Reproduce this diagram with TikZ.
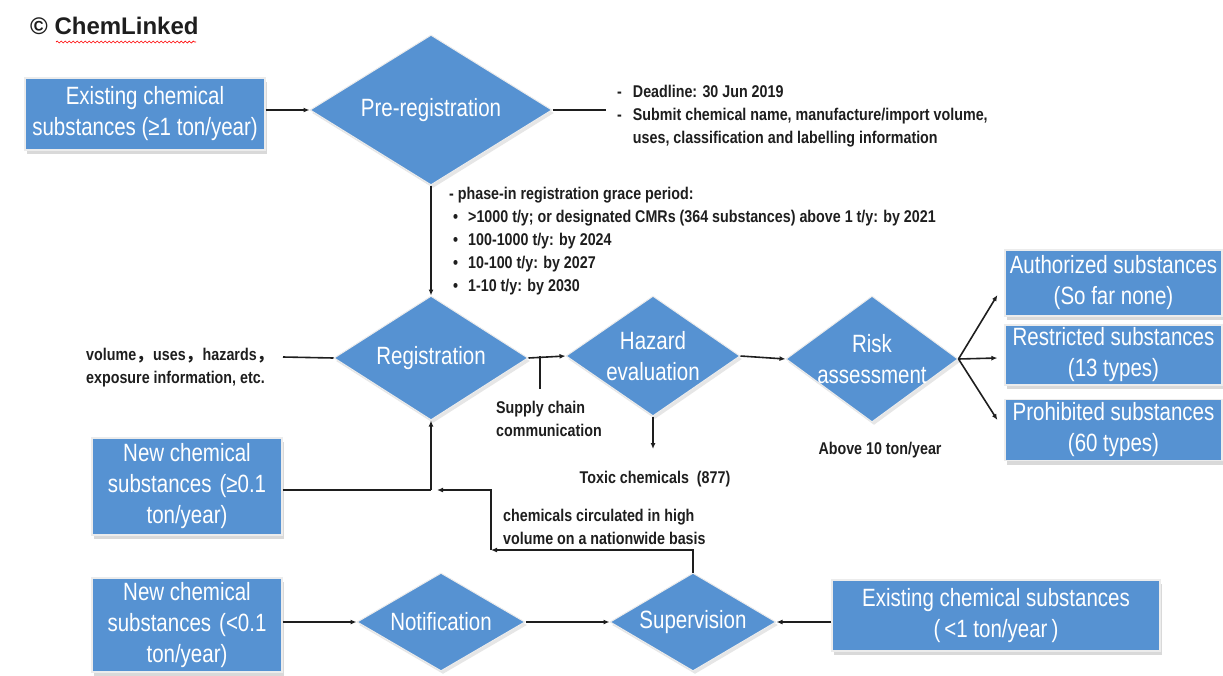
\documentclass[tikz,border=0pt]{standalone}
\usepackage{fontspec}
\setmainfont{Liberation Sans}[FakeStretch=0.82]
\newfontfamily\notefont{Liberation Sans}[FakeStretch=0.84]
\newfontfamily\titlefont{Liberation Sans}
\newfontfamily\cjk{Noto Sans CJK SC}
\usetikzlibrary{shapes.geometric,shadows,arrows.meta,decorations.pathmorphing}
\definecolor{cblue}{RGB}{86,146,210}
\definecolor{ink}{RGB}{30,30,30}
\tikzset{
  box/.style={rectangle, fill=cblue, draw=white!85!gray, line width=1.2pt, text=white,
    font=\fontsize{25}{31}\selectfont, align=center, inner sep=0pt,
    drop shadow={shadow xshift=2pt, shadow yshift=-4pt, opacity=0.3, fill=gray}},
  dia/.style={diamond, aspect=2, fill=cblue, draw=white!85!gray, line width=1pt, inner sep=0pt,
    drop shadow={shadow xshift=2pt, shadow yshift=-3pt, opacity=0.2, fill=gray}},
  diat/.style={text=white, font=\fontsize{25}{31}\selectfont, align=center, inner sep=0pt},
  note/.style={text=ink, font=\notefont\fontsize{17}{23}\selectfont\bfseries, align=left, inner sep=0pt},
  arr/.style={-{Latex[length=6pt,width=5pt]}, line width=1.6pt, draw=ink},
  ln/.style={line width=1.6pt, draw=ink}
}
\begin{document}
\begin{tikzpicture}[x=1pt,y=-1pt]
\useasboundingbox (0,0) rectangle (1223,675);

% title
\node[anchor=west, inner sep=0pt, font=\titlefont\fontsize{24}{28}\selectfont\bfseries, text=ink] (copy) at (30,26) {© ChemLinked};
\draw[red, line width=0.7pt, decorate, decoration={snake, amplitude=1pt, segment length=4pt}] (56,42) -- (196,42);

% top row
\node[box, minimum width=240pt, minimum height=72pt] (b1) at (145,114) {Existing chemical\\substances (≥1 ton/year)};
\node[dia, minimum width=242pt, minimum height=150pt] (pre) at (431,110) {};
\node[diat] (pret) at (pre) {Pre-registration};
\coordinate (dl) at (606,110);
\node[note, anchor=west] (dltext) at (617,116) {-\hspace{11pt}Deadline: 30 Jun 2019\\-\hspace{11pt}Submit chemical name, manufacture/import volume,\\\hphantom{-\hspace{11pt}}uses, classification and labelling information};

\draw[arr] (b1.east |- pre.west) -- (pre.west);
\draw[ln] (pre.east) -- (dl);

% phase-in text
\node[note, anchor=west] (phase) at (449,241) {- phase-in registration grace period:\\
\hspace{4pt}•\hspace{10pt}>1000 t/y; or designated CMRs (364 substances) above 1 t/y: by 2021\\
\hspace{4pt}•\hspace{10pt}100-1000 t/y: by 2024\\
\hspace{4pt}•\hspace{10pt}10-100 t/y: by 2027\\
\hspace{4pt}•\hspace{10pt}1-10 t/y: by 2030};

% registration row
\node[dia, minimum width=194pt, minimum height=124pt] (reg) at (431,358) {};
\node[diat] (regt) at (reg) {Registration};
\draw[arr] (pre.south) -- (reg.north);

\node[note, anchor=west] (vol) at (86,368) {volume{\cjk ，}uses{\cjk ，}hazards{\cjk ，}\\exposure information, etc.};
\coordinate (vl) at (283,357);
\draw[ln] (vl) -- (reg.west);

\node[dia, minimum width=174pt, minimum height=120pt] (haz) at (653,356) {};
\node[diat] (hazt) at (haz) {Hazard\\evaluation};
\draw[arr] (reg.east) -- (haz.west);

\coordinate (sc1) at (540,356);
\coordinate (sc2) at (540,389);
\draw[ln] (sc1) -- (sc2);
\node[note, anchor=west] (supply) at (496,419) {Supply chain\\communication};

\node[dia, minimum width=172pt, minimum height=126pt] (risk) at (872,359) {};
\node[diat] (riskt) at (risk) {Risk\\assessment};
\draw[arr] (haz.east) -- (risk.west);
\node[note] (above) at (880,450) {Above 10 ton/year};

\node[box, minimum width=217pt, minimum height=66pt] (auth) at (1113.5,283) {Authorized substances\\(So far none)};
\node[box, minimum width=217pt, minimum height=60pt] (restr) at (1113.5,355) {Restricted substances\\(13 types)};
\node[box, minimum width=217pt, minimum height=61pt] (proh) at (1113.5,430) {Prohibited substances\\(60 types)};
\draw[arr] (risk.east) -- ([shift={(-7,12)}]auth.west);
\draw[arr] (risk.east) -- ([shift={(-7,3)}]restr.west);
\draw[arr] (risk.east) -- ([shift={(-7,-10)}]proh.west);

% toxic
\coordinate (tox) at (653,449);
\draw[arr] (haz.south) -- (tox);
\node[note] (toxt) at (655,479) {Toxic chemicals\hspace{8pt}(877)};

% new chemical >= 0.1
\node[box, minimum width=190pt, minimum height=97pt] (new1) at (187,486.5) {New chemical\\substances\hspace{8pt}(≥0.1\\ton/year)};
\coordinate (j1) at (431,490);
\draw[ln] (new1.east |- j1) -- (j1);
\draw[arr] (j1) -- (reg.south);

% bottom row
\node[box, minimum width=190pt, minimum height=94pt] (new2) at (187,625) {New chemical\\substances\hspace{8pt}(<0.1\\ton/year)};
\node[dia, minimum width=168pt, minimum height=98pt] (notif) at (441,622) {};
\node[diat] (notift) at (notif) {Notification};
\node[dia, minimum width=166pt, minimum height=98pt] (sup) at (693,622) {};
\node[diat] (supt) at (sup) {Supervision};
\node[box, minimum width=328pt, minimum height=71pt] (ex2) at (996,615.5) {Existing chemical substances\\(\hspace{4pt}<1 ton/year\hspace{4pt})};

\draw[arr] (new2.east |- notif.west) -- (notif.west);
\draw[arr] (notif.east) -- (sup.west);
\draw[arr] (ex2.west |- sup.east) -- (sup.east);

% supervision feedback
\coordinate (s1) at (693,550);
\coordinate (s2) at (491,550);
\coordinate (s3) at (491,490);
\coordinate (s4) at (437,490);
\draw[arr] (sup.north) -- (s1) -- (s2);
\draw[arr] (s2) -- (s3) -- (s4);
\node[note, anchor=west] (circ) at (503,527) {chemicals circulated in high\\volume on a nationwide basis};

\end{tikzpicture}
\end{document}
